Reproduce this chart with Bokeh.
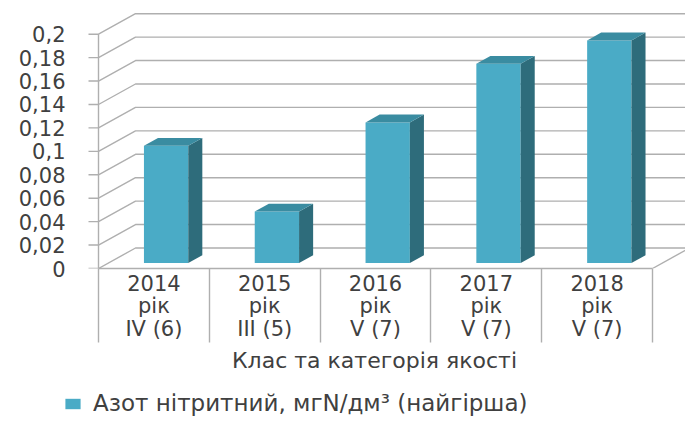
from bokeh.plotting import figure
from bokeh.layouts import column
from bokeh.models import Range1d, FixedTicker, Legend, LegendItem
from bokeh.embed import file_html
from bokeh.resources import INLINE

# ---------------- data ----------------
years = ["2014", "2015", "2016", "2017", "2018"]
year_word = ["рік", "рік", "рік", "рік", "рік"]
quality_class = ["IV (6)", "III (5)", "V (7)", "V (7)", "V (7)"]
values = [0.1, 0.044, 0.12, 0.17, 0.19]
y_ticks = [0, 0.02, 0.04, 0.06, 0.08, 0.1, 0.12, 0.14, 0.16, 0.18, 0.2]
y_tick_labels = ["0", "0,02", "0,04", "0,06", "0,08", "0,1", "0,12", "0,14", "0,16", "0,18", "0,2"]
series_name = "Азот нітритний, мгN/дм³ (найгірша)"
x_title = "Клас та категорія якості"

# ---------------- style / geometry ----------------
FONT = "DejaVu Sans"
FS = "21px"
TEXT = "#404040"
GRID = "#afafaf"
FRONT = "#4AABC6"
SIDE = "#2E6C7B"
TOPC = "#3A8CA1"

W = 685
FRAME_L = 63          # frame left (legend swatch also starts here)
AXIS_PX = 35          # front y-axis sits this far right of the frame edge
FRAME_H, BOTTOM = 268, 120
H1, H2 = FRAME_H + BOTTOM, 30

PX_X = 110.8      # pixels per category
PX_Y = 1171.5     # pixels per value unit
DX = 37 / PX_X    # depth of the 3-D box (data units)
DY = 20.5 / PX_Y
TICK = 10 / PX_X
BAR_W = 0.40
BAR_SHIFT = 0.02
F0 = 0.27          # depth position of bar front (fraction of box depth)
FD = 0.38          # bar depth (fraction of box depth)
n = len(values)

p = figure(width=W, height=H1, output_backend="svg", toolbar_location=None,
           x_range=Range1d(-AXIS_PX / PX_X, (W - FRAME_L - AXIS_PX) / PX_X),
           y_range=Range1d(0, FRAME_H / PX_Y),
           min_border_left=FRAME_L, min_border_right=0, min_border_top=0,
           min_border_bottom=BOTTOM)
p.outline_line_color = None
p.grid.visible = False

# back wall, side wall, floor lines, front value axis and its ticks
xs, ys = [], []
for t in y_ticks:
    xs.append([-TICK, 0, DX, n + DX])
    ys.append([t, t, t + DY, t + DY])
xs.append([0, 0]); ys.append([y_ticks[0], y_ticks[-1]])
xs.append([n, n + DX]); ys.append([0, DY])
p.multi_line(xs, ys, line_color=GRID, line_width=1.4)

# bars
lefts, rights, bottoms, tops = [], [], [], []
side_x, side_y, top_x, top_y = [], [], [], []
bdx, bdy = FD * DX, FD * DY
for i, v in enumerate(values):
    c = i + 0.5 + F0 * DX + BAR_SHIFT
    l, r = c - BAR_W / 2, c + BAR_W / 2
    b, t = F0 * DY, v + F0 * DY
    lefts.append(l); rights.append(r); bottoms.append(b); tops.append(t)
    side_x.append([r, r + bdx, r + bdx, r])
    side_y.append([b, b + bdy, t + bdy, t])
    top_x.append([l, r, r + bdx, l + bdx])
    top_y.append([t, t, t + bdy, t + bdy])

p.quad(left=lefts, right=rights, bottom=bottoms, top=tops,
       fill_color=FRONT, line_color=None)
p.patches(side_x, side_y, fill_color=SIDE, line_color=None)
p.patches(top_x, top_y, fill_color=TOPC, line_color=None)

# y axis: supplies the tick labels
ya = p.yaxis[0]
ya.ticker = FixedTicker(ticks=y_ticks)
ya.major_label_overrides = dict(zip(y_ticks, y_tick_labels))
ya.axis_line_color = None
ya.major_tick_line_color = None
ya.minor_tick_line_color = None
ya.major_tick_in = 0
ya.major_tick_out = 0
ya.major_label_standoff = -2
ya.major_label_text_font = FONT
ya.major_label_text_font_size = FS
ya.major_label_text_color = TEXT

# x axis (category axis)
centers = [i + 0.5 for i in range(n)]
labels = [f"{a}\n{b}\n{c}" for a, b, c in zip(years, year_word, quality_class)]
xa = p.xaxis[0]
xa.ticker = FixedTicker(ticks=centers, minor_ticks=list(range(n + 1)))
xa.major_label_overrides = dict(zip(centers, labels))
xa.bounds = (0, n)
xa.axis_line_color = GRID
xa.axis_line_width = 1.4
xa.major_tick_in = 0
xa.major_tick_out = 0
xa.minor_tick_in = 0
xa.minor_tick_out = 74
xa.minor_tick_line_color = GRID
xa.minor_tick_line_width = 1.4
xa.major_label_standoff = -71
xa.major_label_text_font = FONT
xa.major_label_text_font_size = FS
xa.major_label_text_line_height = 0.95
xa.major_label_text_color = TEXT
xa.axis_label = x_title
xa.axis_label_text_font = FONT
xa.axis_label_text_font_size = "22px"
xa.axis_label_text_font_style = "normal"
xa.axis_label_text_color = TEXT
xa.axis_label_standoff = 4

# legend strip below the chart (swatch uses the bar faces, kept out of view)
p2 = figure(width=W, height=H2, output_backend="svg", toolbar_location=None,
            x_range=Range1d(-2, -1), y_range=Range1d(-2, -1),
            x_axis_location=None, y_axis_location=None,
            min_border=0, min_border_left=FRAME_L)
p2.outline_line_color = None
p2.grid.visible = False
swatch = p2.quad(left=lefts, right=rights, bottom=bottoms, top=tops,
                 fill_color=FRONT, line_color=None)
legend = Legend(items=[LegendItem(label=series_name, renderers=[swatch])],
                location="left", orientation="horizontal",
                label_text_font=FONT, label_text_font_size="23px",
                label_text_color=TEXT, glyph_width=19, glyph_height=13,
                label_standoff=11, padding=0, margin=0,
                border_line_color=None, background_fill_alpha=0)
p2.add_layout(legend)

layout = column(p, p2, spacing=0)
open("out.html", "w").write(file_html(layout, INLINE))
